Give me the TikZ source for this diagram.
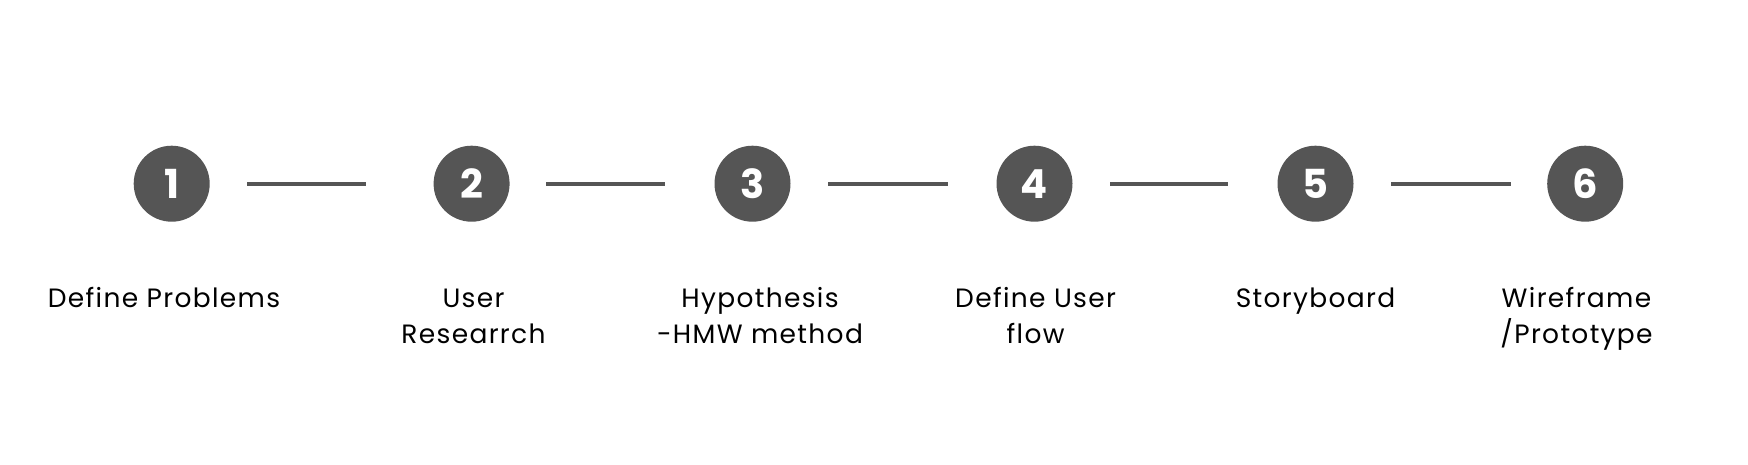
\documentclass[tikz,border=0pt]{standalone}
\usepackage{fontspec}
\setmainfont{Poppins}
\newfontfamily\labelfont[LetterSpace=5]{Poppins}
\definecolor{stepgray}{HTML}{555555}
\begin{document}
\begin{tikzpicture}[x=1pt,y=-1pt,
  stepcircle/.style={circle,fill=stepgray,minimum size=76pt,inner sep=0pt,text=white,font=\fontsize{40}{40}\selectfont\bfseries},
  steplabel/.style={align=center,font=\labelfont\fontsize{26.5}{36}\selectfont,text=black,anchor=base},
  linkline/.style={draw=stepgray,line width=4pt}]
\useasboundingbox (0,0) rectangle (1748,464);
\node[stepcircle] (c1) at (171.7,183.7) {1};
\node[stepcircle] (c2) at (471.6,183.7) {2};
\node[stepcircle] (c3) at (752.5,183.7) {3};
\node[stepcircle] (c4) at (1034.5,183.7) {4};
\node[stepcircle] (c5) at (1315.5,183.7) {5};
\node[stepcircle] (c6) at (1585.2,183.7) {6};
\draw[linkline] ([xshift=37.5pt]c1.east) -- ([xshift=-67.5pt]c2.west);
\draw[linkline] ([xshift=36.5pt]c2.east) -- ([xshift=-49pt]c3.west);
\draw[linkline] ([xshift=37.5pt]c3.east) -- ([xshift=-48.5pt]c4.west);
\draw[linkline] ([xshift=37.5pt]c4.east) -- ([xshift=-49pt]c5.west);
\draw[linkline] ([xshift=37.5pt]c5.east) -- ([xshift=-36.5pt]c6.west);
\node[steplabel] (l1) at (164,307.5) {Define Problems};
\node[steplabel] (l2) at (473.5,343.5) {User\\Researrch};
\node[steplabel] (l3) at (760,343.5) {Hypothesis\\-HMW method};
\node[steplabel] (l4) at (1035.6,343.5) {Define User\\flow};
\node[steplabel] (l5) at (1315.5,307.5) {Storyboard};
\node[steplabel] (l6) at (1576.5,343.5) {Wireframe\\/Prototype};
\end{tikzpicture}
\end{document}
